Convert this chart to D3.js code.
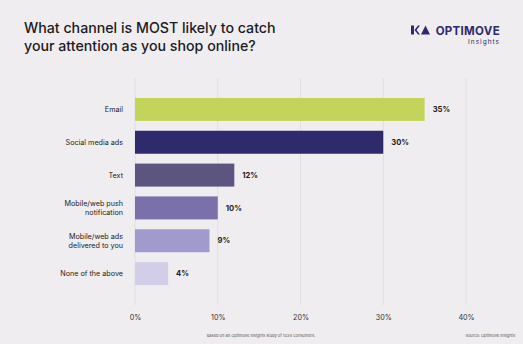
<!DOCTYPE html>
<html><head><meta charset="utf-8">
<script src="https://cdn.jsdelivr.net/npm/d3@7"></script>
<style>
body{margin:0;background:#efedef;}
svg{display:block;}
text{font-family:Inter, "Noto Sans", sans-serif;}
</style></head>
<body>
<svg id="c" width="523" height="344"></svg>
<script>
const categories = ["Email","Social media ads","Text","Mobile/web push notification","Mobile/web ads delivered to you","None of the above"];
const categoryLines = [["Email"],["Social media ads"],["Text"],["Mobile/web push","notification"],["Mobile/web ads","delivered to you"],["None of the above"]];
const values = [35,30,12,10,9,4];
const colors = ["#c4d45a","#2e2a6b","#5c5580","#7b71aa","#a19acd","#d2cee7"];
const tickValues = [0,10,20,30,40];

const svg = d3.select("#c");
svg.append("rect").attr("width",523).attr("height",344).attr("fill","#efedef");

const x = d3.scaleLinear().domain([0,40]).range([135,466]);
const y = d3.scaleBand().domain(categories).range([93,290]).paddingInner(0.3).paddingOuter(0.15);

// grid
svg.append("g").selectAll("line").data(tickValues).join("line")
  .attr("x1",d=>x(d)).attr("x2",d=>x(d)).attr("y1",78).attr("y2",305)
  .attr("stroke","#dcdadd").attr("stroke-width",0.8);

// axis labels
const ax = svg.append("g").attr("transform","translate(0,312)")
  .call(d3.axisBottom(x).tickValues(tickValues).tickFormat(d=>d+"%").tickSize(0));
ax.select(".domain").remove();
ax.selectAll("text").attr("font-size",7.2).attr("fill","#333").attr("dy","0.71em");

// bars
svg.append("g").selectAll("rect").data(values).join("rect")
  .attr("x",x(0)).attr("y",(d,i)=>y(categories[i]))
  .attr("width",d=>x(d)-x(0)).attr("height",y.bandwidth())
  .attr("fill",(d,i)=>colors[i]);

// value labels
svg.append("g").selectAll("text").data(values).join("text")
  .attr("x",d=>x(d)+8).attr("y",(d,i)=>y(categories[i])+y.bandwidth()/2)
  .attr("dy","0.35em").attr("font-size",7.6).attr("font-weight",700).attr("fill","#222")
  .text(d=>d+"%");

// category labels
const cl = svg.append("g").selectAll("text").data(categories).join("text")
  .attr("x",123).attr("text-anchor","end").attr("font-size",7.2).attr("fill","#222")
  .attr("y",(d,i)=>y(d)+y.bandwidth()/2 - (categoryLines[i].length-1)*4.4);
cl.each(function(d,i){
  d3.select(this).selectAll("tspan").data(categoryLines[i]).join("tspan")
    .attr("x",123).attr("dy",(t,j)=>j===0?"0.35em":"1.23em").text(t=>t);
});

// title
const title = svg.append("text").attr("x",24).attr("y",33).attr("font-size",14.2).attr("fill","#1c1b24").attr("font-weight",500);
title.append("tspan").attr("x",24).text("What channel is MOST likely to catch");
title.append("tspan").attr("x",24).attr("dy",17.5).text("your attention as you shop online?");

// logo
const lg = svg.append("g");
lg.append("path").attr("d","M411,25.5 h3 v9 h-3 z M414.5,30 l3.5,-4.5 h2 l-3.5,4.5 l3.5,4.5 h-2 z").attr("fill","#2e2a6b");
lg.append("path").attr("d","M421,34.5 l4.5,-9 l4.5,9 z").attr("fill","#2e2a6b");
lg.append("text").attr("x",500).attr("y",34.5).attr("text-anchor","end").attr("font-size",11.5).attr("font-weight",700).attr("fill","#2e2a6b").attr("letter-spacing",0.3).text("OPTIMOVE");
lg.append("text").attr("x",500).attr("y",44).attr("text-anchor","end").attr("font-size",6.5).attr("fill","#2e2a6b").attr("letter-spacing",1).text("Insights");

// footnotes
svg.append("text").attr("x",261).attr("y",337).attr("text-anchor","middle").attr("font-size",4).attr("fill","#555").text("Based on an Optimove Insights study of 1034 consumers.");
svg.append("text").attr("x",515).attr("y",337).attr("text-anchor","end").attr("font-size",4).attr("fill","#555").text("Source: Optimove Insights");
</script>
</body></html>
